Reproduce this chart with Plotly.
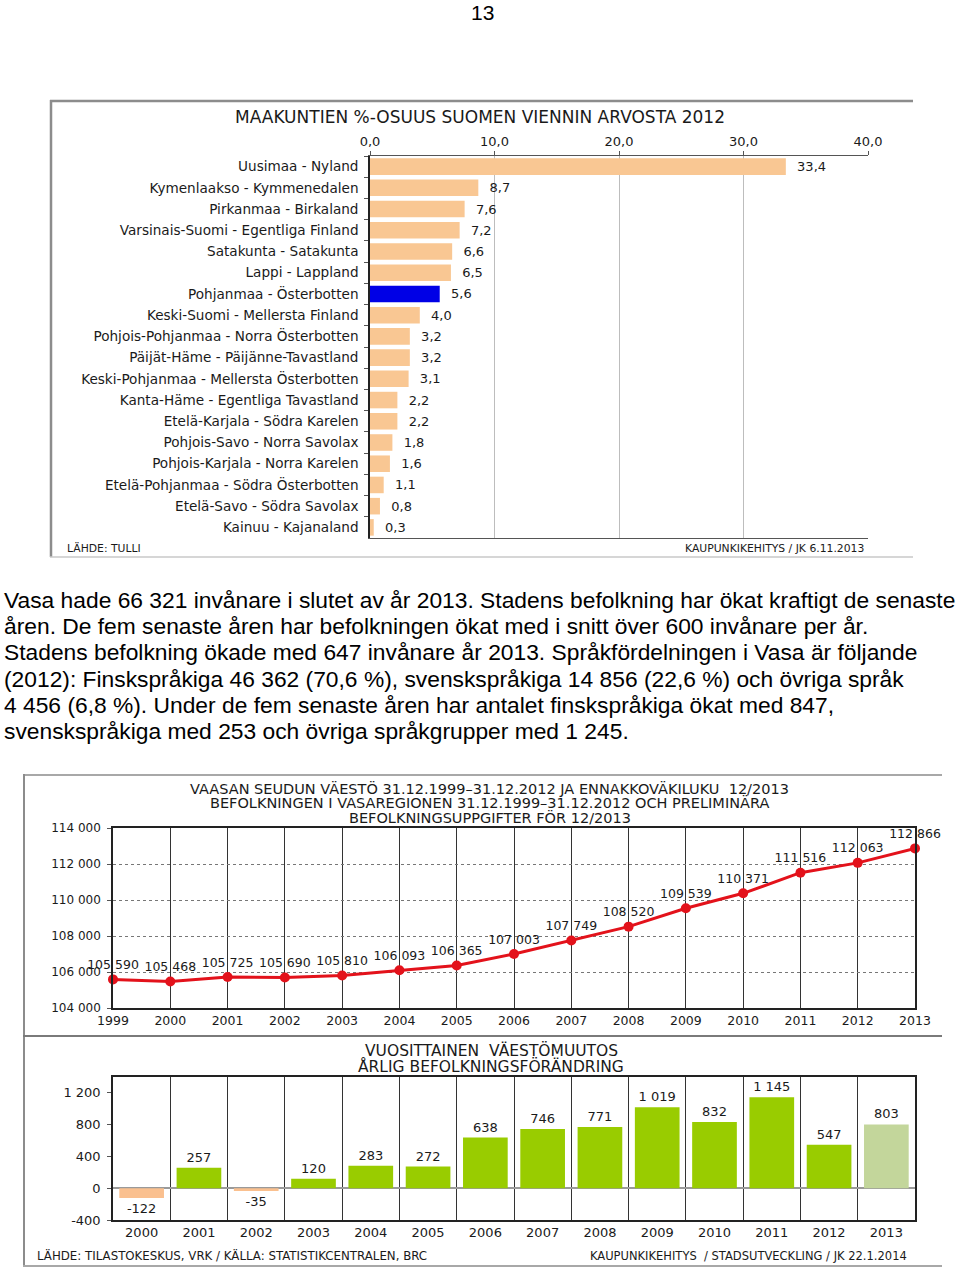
import plotly.graph_objects as go

W, H = 960, 1268


def px(x):
    return x / W


def py(y):
    return 1 - y / H


# ---------------- data ----------------
regions = [
    "Uusimaa - Nyland",
    "Kymenlaakso - Kymmenedalen",
    "Pirkanmaa - Birkaland",
    "Varsinais-Suomi - Egentliga Finland",
    "Satakunta - Satakunta",
    "Lappi - Lappland",
    "Pohjanmaa - Österbotten",
    "Keski-Suomi - Mellersta Finland",
    "Pohjois-Pohjanmaa - Norra Österbotten",
    "Päijät-Häme - Päijänne-Tavastland",
    "Keski-Pohjanmaa - Mellersta Österbotten",
    "Kanta-Häme - Egentliga Tavastland",
    "Etelä-Karjala - Södra Karelen",
    "Pohjois-Savo - Norra Savolax",
    "Pohjois-Karjala - Norra Karelen",
    "Etelä-Pohjanmaa - Södra Österbotten",
    "Etelä-Savo - Södra Savolax",
    "Kainuu - Kajanaland",
]
export_share = [33.4, 8.7, 7.6, 7.2, 6.6, 6.5, 5.6, 4.0, 3.2, 3.2, 3.1, 2.2, 2.2, 1.8, 1.6, 1.1, 0.8, 0.3]
highlight_region = "Pohjanmaa - Österbotten"
share_ticks = [0, 10, 20, 30, 40]
share_tick_labels = ["0,0", "10,0", "20,0", "30,0", "40,0"]

pop_years = [1999, 2000, 2001, 2002, 2003, 2004, 2005, 2006, 2007, 2008, 2009, 2010, 2011, 2012, 2013]
population = [105590, 105468, 105725, 105690, 105810, 106093, 106365, 107003, 107749, 108520,
              109539, 110371, 111516, 112063, 112866]
pop_ticks = [104000, 106000, 108000, 110000, 112000, 114000]
pop_tick_labels = ["104 000", "106 000", "108 000", "110 000", "112 000", "114 000"]

change_years = ["2000", "2001", "2002", "2003", "2004", "2005", "2006", "2007", "2008", "2009",
                "2010", "2011", "2012", "2013"]
change = [-122, 257, -35, 120, 283, 272, 638, 746, 771, 1019, 832, 1145, 547, 803]
preliminary_year = "2013"
change_ticks = [-400, 0, 400, 800, 1200]
change_tick_labels = ["-400", "0", "400", "800", "1 200"]

paragraph = [
    "Vasa hade 66 321 invånare i slutet av år 2013. Stadens befolkning har ökat kraftigt de senaste",
    "åren. De fem senaste åren har befolkningen ökat med i snitt över 600 invånare per år.",
    "Stadens befolkning ökade med 647 invånare år 2013. Språkfördelningen i Vasa är följande",
    "(2012): Finskspråkiga 46 362 (70,6 %), svenskspråkiga 14 856 (22,6 %) och övriga språk",
    "4 456 (6,8 %). Under de fem senaste åren har antalet finskspråkiga ökat med 847,",
    "svenskspråkiga med 253 och övriga språkgrupper med 1 245.",
]


def fmt_int(v):
    return f"{v:,}".replace(",", " ")


CF = "DejaVu Sans"
TXT = "#1a1a1a"

fig = go.Figure()

# ---------------- chart 1: export shares ----------------
bar_colors = ["#0000E6" if r == highlight_region else "#F9C793" for r in regions]
fig.add_trace(go.Bar(
    x=export_share, y=regions, orientation="h",
    marker=dict(color=bar_colors, line=dict(width=0)),
    text=["  " + f"{v:.1f}".replace(".", ",") for v in export_share],
    textposition="outside", constraintext="none", cliponaxis=False,
    textfont=dict(family=CF, size=13, color=TXT),
    xaxis="x", yaxis="y", showlegend=False, hoverinfo="skip",
))

# ---------------- chart 2: population ----------------
fig.add_trace(go.Scatter(
    x=pop_years, y=population, mode="lines+markers+text",
    line=dict(color="#E3121B", width=3),
    marker=dict(color="#E3121B", size=10),
    text=[fmt_int(v) for v in population], textposition="top center",
    textfont=dict(family=CF, size=12.5, color=TXT),
    cliponaxis=False, xaxis="x2", yaxis="y2", showlegend=False, hoverinfo="skip",
))

# ---------------- chart 3: yearly change ----------------
chg_colors = []
for yr, v in zip(change_years, change):
    if yr == preliminary_year:
        chg_colors.append("#C3D69B")
    elif v < 0:
        chg_colors.append("#FAC08F")
    else:
        chg_colors.append("#99CC00")
fig.add_trace(go.Bar(
    x=change_years, y=change,
    marker=dict(color=chg_colors, line=dict(width=0)),
    text=[fmt_int(v) for v in change], textposition="outside",
    constraintext="none", cliponaxis=False,
    textfont=dict(family=CF, size=13, color=TXT),
    xaxis="x3", yaxis="y3", showlegend=False, hoverinfo="skip",
))

fig.update_layout(
    width=W, height=H, margin=dict(l=0, r=0, t=0, b=0, autoexpand=False),
    paper_bgcolor="white", plot_bgcolor="white",
    bargap=0.22,
    xaxis=dict(domain=[px(370), px(868)], range=[0, 40], side="top",
               tickvals=share_ticks, ticktext=share_tick_labels,
               tickfont=dict(family=CF, size=13, color=TXT),
               showgrid=True, gridcolor="#BDBDBD", gridwidth=1, zeroline=False,
               showline=True, linecolor="#555", linewidth=1, mirror=True,
               ticks="outside", ticklen=4, tickcolor="#555", anchor="y", automargin=False),
    yaxis=dict(domain=[py(538), py(156)], autorange="reversed", type="category",
               tickfont=dict(family=CF, size=13.6, color=TXT),
               showline=True, linecolor="#222", linewidth=1.5,
               ticks="outside", tickson="boundaries", ticklen=4, tickcolor="#555",
               ticklabelstandoff=7, showgrid=False, anchor="x", automargin=False),
    xaxis2=dict(domain=[px(113), px(915)], range=[1999, 2013],
                tickvals=pop_years, ticktext=[str(y) for y in pop_years],
                tickfont=dict(family=CF, size=12.5, color=TXT),
                showgrid=True, gridcolor="#333", gridwidth=1, zeroline=False,
                showline=True, linecolor="#222", linewidth=1.5, mirror=True,
                ticks="", anchor="y2", automargin=False),
    yaxis2=dict(domain=[py(1008), py(828)], range=[104000, 114000],
                tickvals=pop_ticks, ticktext=pop_tick_labels,
                tickfont=dict(family=CF, size=12, color=TXT),
                showgrid=True, gridcolor="#777", griddash="dot", gridwidth=1,
                zeroline=False, showline=True, linecolor="#222", linewidth=1.5,
                mirror=True, ticks="outside", ticklen=4, tickcolor="#555",
                ticklabelstandoff=4, anchor="x2", automargin=False),
    xaxis3=dict(domain=[px(113), px(915)], type="category",
                tickfont=dict(family=CF, size=13, color=TXT),
                showgrid=True, gridcolor="#333", gridwidth=1, tickson="boundaries",
                showline=True, linecolor="#222", linewidth=1.5, mirror=True,
                ticks="", anchor="y3", automargin=False),
    yaxis3=dict(domain=[py(1220), py(1077)], range=[-400, 1400],
                tickvals=change_ticks, ticktext=change_tick_labels,
                tickfont=dict(family=CF, size=13, color=TXT),
                showgrid=False, zeroline=True, zerolinecolor="#9a9a9a", zerolinewidth=1.5,
                showline=True, linecolor="#222", linewidth=1.5, mirror=True,
                ticks="outside", ticklen=4, tickcolor="#555",
                ticklabelstandoff=4, anchor="x3", automargin=False),
)

ann = []


def add_text(text, x, y, size, family=CF, xanchor="center", color=TXT):
    ann.append(dict(text=text, x=px(x), y=py(y), xref="paper", yref="paper",
                    xanchor=xanchor, yanchor="middle", showarrow=False,
                    font=dict(family=family, size=size, color=color)))


# page number
add_text("13", 482, 12, 21, family="Liberation Sans", color="#000")

# chart 1 texts
add_text("MAAKUNTIEN %-OSUUS SUOMEN VIENNIN ARVOSTA 2012", 480, 117, 17)
add_text("LÄHDE: TULLI", 65, 548, 10.8, xanchor="left")
add_text("KAUPUNKIKEHITYS / JK 6.11.2013", 866, 548, 10.8, xanchor="right")

# paragraph
for i, line in enumerate(paragraph):
    add_text(line, 2, 600 + i * 26.2, 22.8, family="Liberation Sans", xanchor="left", color="#000")

# chart 2 titles
add_text("VAASAN SEUDUN VÄESTÖ 31.12.1999–31.12.2012 JA ENNAKKOVÄKILUKU  12/2013", 490, 788, 14.5)
add_text("BEFOLKNINGEN I VASAREGIONEN 31.12.1999–31.12.2012 OCH PRELIMINÄRA", 490, 802.5, 14.5)
add_text("BEFOLKNINGSUPPGIFTER FÖR 12/2013", 490, 817, 14.5)

# chart 3 titles
add_text("VUOSITTAINEN  VÄESTÖMUUTOS", 491, 1050.5, 15.5)
add_text("ÅRLIG BEFOLKNINGSFÖRÄNDRING", 491, 1066, 15.5)
add_text("LÄHDE: TILASTOKESKUS, VRK / KÄLLA: STATISTIKCENTRALEN, BRC", 35, 1255, 11.8, xanchor="left")
add_text("KAUPUNKIKEHITYS  / STADSUTVECKLING / JK 22.1.2014", 909, 1256, 11.5, xanchor="right")

fig.update_layout(annotations=ann)


def line(x0, y0, x1, y1, color, width):
    return dict(type="line", xref="paper", yref="paper",
                x0=px(x0), y0=py(y0), x1=px(x1), y1=py(y1),
                line=dict(color=color, width=width), layer="above")


fig.update_layout(shapes=[
    # chart 1 frame
    line(50, 101, 913, 101, "#8c8c8c", 2.5),
    line(51, 100, 51, 557, "#8c8c8c", 2.5),
    line(50, 557, 913, 557, "#c8c8c8", 1.5),
    # chart 2/3 frame
    line(23, 775, 942, 775, "#a8a8a8", 2),
    line(24, 774, 24, 1267, "#8c8c8c", 2),
    line(23, 1036, 942, 1036, "#7a7a7a", 2),
    line(23, 1266, 942, 1266, "#a8a8a8", 2),
])

fig.write_html(
    "out.html",
    config={"displayModeBar": False},
    post_script="document.body.style.margin='0px';document.body.style.padding='0px';",
)
